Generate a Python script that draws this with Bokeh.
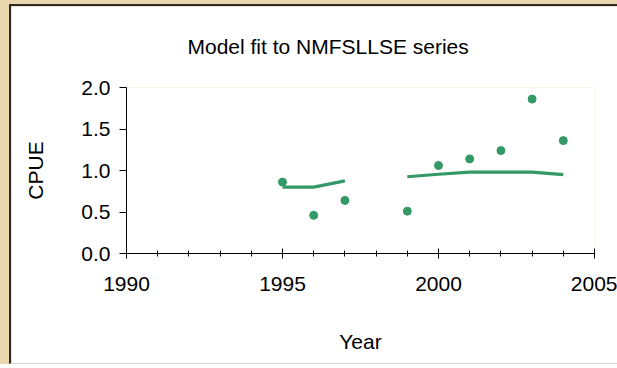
from bokeh.plotting import figure
from bokeh.layouts import column
from bokeh.models import FixedTicker, PrintfTickFormatter, ColumnDataSource
from bokeh.embed import file_html
from bokeh.resources import INLINE

# observed CPUE
obs_years = [1995, 1996, 1997, 1999, 2000, 2001, 2002, 2003, 2004]
obs_cpue = [0.86, 0.46, 0.64, 0.51, 1.06, 1.14, 1.24, 1.86, 1.36]

# model fit (gap in 1998)
fit_years = [1995, 1996, 1997, 1998, 1999, 2000, 2001, 2002, 2003, 2004]
fit_cpue = [0.80, 0.80, 0.875, float("nan"), 0.925, 0.955, 0.98, 0.98, 0.98, 0.95]

x_major = [1990, 1995, 2000, 2005]
x_minor = list(range(1990, 2006))
y_major = [0.0, 0.5, 1.0, 1.5, 2.0]

TITLE = "Model fit to NMFSLLSE series"
GREEN = "#339966"
BEIGE = "#EAD7AD"
FONT = "Liberation Sans"

p = figure(width=608, height=360, x_range=(1990, 2005), y_range=(0, 2),
           output_backend="svg", toolbar_location=None, title=TITLE,
           min_border_left=115, min_border_right=25,
           min_border_top=81, min_border_bottom=113,
           styles={"border-left": "2px solid #2a2a2a",
                   "border-top": "2px solid #2a2a2a",
                   "border-bottom": "1px solid #d4d4d4"})

p.background_fill_color = "white"
p.border_fill_color = "white"
p.outline_line_color = None
p.grid.visible = False

p.title.text_font = FONT
p.title.text_font_size = "21px"
p.title.text_font_style = "normal"
p.title.align = "left"
p.title.vertical_align = "top"
p.title.offset = 61
p.title.standoff = 56
p.title.text_color = "black"

fit_src = ColumnDataSource(dict(x=fit_years, y=fit_cpue))
obs_src = ColumnDataSource(dict(x=obs_years, y=obs_cpue))
p.line("x", "y", source=fit_src, line_color=GREEN, line_width=3.2)
p.scatter("x", "y", source=obs_src, size=8, fill_color=GREEN, line_color=GREEN)

xa = p.xaxis[0]
xa.ticker = FixedTicker(ticks=x_major, minor_ticks=x_minor)
xa.major_tick_in = 5
xa.major_tick_out = 5
xa.minor_tick_in = 3
xa.minor_tick_out = 3
xa.axis_line_color = "black"
xa.major_tick_line_color = "black"
xa.minor_tick_line_color = "black"
xa.major_label_text_font = FONT
xa.major_label_text_font_size = "21px"
xa.major_label_text_color = "black"
xa.major_label_standoff = 18
xa.axis_label = "Year"
xa.axis_label_text_font = FONT
xa.axis_label_text_font_size = "21px"
xa.axis_label_text_font_style = "normal"
xa.axis_label_text_color = "black"
xa.axis_label_standoff = 36

ya = p.yaxis[0]
ya.ticker = FixedTicker(ticks=y_major, minor_ticks=[])
ya.formatter = PrintfTickFormatter(format="%.1f")
ya.major_tick_in = 0
ya.major_tick_out = 7
ya.minor_tick_line_color = None
ya.axis_line_color = "black"
ya.major_tick_line_color = "black"
ya.major_label_text_font = FONT
ya.major_label_text_font_size = "21px"
ya.major_label_text_color = "black"
ya.major_label_standoff = 9
ya.axis_label = "CPUE"
ya.axis_label_text_font = FONT
ya.axis_label_text_font_size = "21px"
ya.axis_label_text_font_style = "normal"
ya.axis_label_text_color = "black"
ya.axis_label_standoff = 31

layout = column(p, styles={"background-color": BEIGE,
                           "padding-left": "9px", "padding-top": "4px"})

open("out.html", "w").write(file_html(layout, INLINE))
